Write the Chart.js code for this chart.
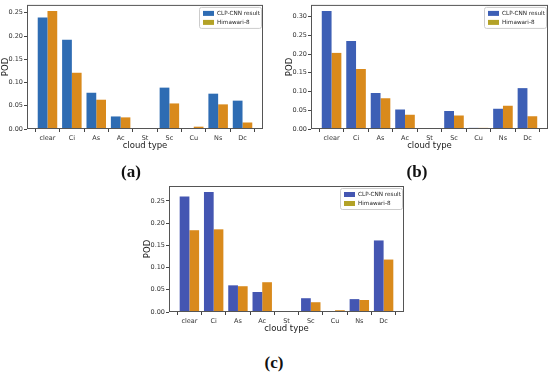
<!DOCTYPE html>
<html lang="en">
<head>
    <meta charset="UTF-8">
    <title>POD by cloud type</title>
    <script src="https://cdn.jsdelivr.net/npm/chart.js"></script>
    <style>
        body { margin: 0; background: #fff; }
        #wrap { position: relative; width: 550px; height: 373px; overflow: hidden; }
        canvas { position: absolute; }
        .cap { position: absolute; font: bold 17px "Liberation Serif", "DejaVu Serif", serif; color: #111; transform: translate(-50%, -50%); }
    </style>
</head>
<body>
<div id="wrap">
    <canvas id="chartA" width="275" height="155" style="left:0;top:0"></canvas>
    <canvas id="chartB" width="275" height="155" style="left:275px;top:0"></canvas>
    <canvas id="chartC" width="300" height="158" style="left:130px;top:180px"></canvas>
    <div class="cap" style="left:131px;top:172px">(a)</div>
    <div class="cap" style="left:417px;top:172px">(b)</div>
    <div class="cap" style="left:274px;top:363px">(c)</div>
</div>

<script>
    const categories = ['clear', 'Ci', 'As', 'Ac', 'St', 'Sc', 'Cu', 'Ns', 'Dc'];
    const seriesNames = ['CLP-CNN result', 'Himawari-8'];

    // (a)
    const clpA = [0.240, 0.192, 0.078, 0.027, 0, 0.089, 0.001, 0.076, 0.061];
    const himA = [0.254, 0.121, 0.063, 0.025, 0, 0.055, 0.005, 0.053, 0.014];
    // (b)
    const clpB = [0.315, 0.235, 0.096, 0.052, 0, 0.048, 0.003, 0.054, 0.109];
    const himB = [0.203, 0.160, 0.082, 0.038, 0, 0.036, 0.003, 0.062, 0.034];
    // (c)
    const clpC = [0.260, 0.270, 0.060, 0.045, 0, 0.031, 0.001, 0.029, 0.161];
    const himC = [0.184, 0.186, 0.058, 0.067, 0, 0.022, 0.004, 0.027, 0.118];

    const orange = '#d98a1c';
    const olive = '#b3a227';

    // box round the plot + legend in upper right
    const framePlugin = {
        id: 'frame',
        afterDraw(chart) {
            const a = chart.chartArea, ctx = chart.ctx;
            ctx.save();
            ctx.strokeStyle = '#555';
            ctx.lineWidth = 1;
            ctx.strokeRect(a.left + 0.5, a.top + 0.5, a.right - a.left - 1, a.bottom - a.top - 1);

            const w = 62, h = 21;
            const x = a.right - w - 2, y = a.top + 2;
            ctx.fillStyle = '#fff';
            ctx.strokeStyle = '#ccc';
            ctx.beginPath();
            ctx.roundRect(x + 0.5, y + 0.5, w, h, 2);
            ctx.fill();
            ctx.stroke();
            ctx.font = '5.7px "DejaVu Sans"';
            ctx.textBaseline = 'middle';
            chart.data.datasets.forEach((ds, i) => {
                const ry = y + 6.5 + i * 9;
                ctx.fillStyle = ds.legendColor;
                ctx.fillRect(x + 4, ry - 2.5, 11, 5);
                ctx.fillStyle = '#222';
                ctx.fillText(ds.label, x + 18, ry);
            });
            ctx.restore();
        }
    };

    function makeChart(id, clp, him, blue, yWidth, podPad, pad, yMax) {
        new Chart(document.getElementById(id), {
            type: 'bar',
            data: {
                datasets: [
                    { label: seriesNames[0], data: clp.map((v, i) => ({ x: i, y: v })), backgroundColor: blue, legendColor: blue },
                    { label: seriesNames[1], data: him.map((v, i) => ({ x: i, y: v })), backgroundColor: orange, legendColor: olive }
                ]
            },
            options: {
                responsive: false,
                animation: false,
                layout: { padding: pad },
                categoryPercentage: 0.8,
                barPercentage: 1.0,
                plugins: { legend: { display: false }, tooltip: { enabled: false } },
                scales: {
                    x: {
                        type: 'linear',
                        min: -0.84,
                        max: 8.84,
                        offset: false,
                        afterBuildTicks: s => { s.ticks = categories.map((c, i) => ({ value: i })); },
                        afterFit: s => { s.height = 26; },
                        grid: { drawOnChartArea: false, color: '#444', tickLength: 3 },
                        border: { display: false },
                        ticks: { callback: v => categories[v], font: { size: 6.5, family: 'DejaVu Sans' }, color: '#333', padding: 2, maxRotation: 0, autoSkip: false },
                        title: { display: true, text: 'cloud type', font: { size: 8.5, family: 'DejaVu Sans' }, color: '#222', padding: { top: 0, bottom: 3.9 } }
                    },
                    y: {
                        min: 0,
                        max: yMax,
                        afterFit: s => { s.width = yWidth; },
                        grid: { drawOnChartArea: false, color: '#444', tickLength: 3 },
                        border: { display: false },
                        ticks: { stepSize: 0.05, includeBounds: false, callback: v => v.toFixed(2), font: { size: 6.5, family: 'DejaVu Sans' }, color: '#333', padding: 1 },
                        title: { display: true, text: 'POD', font: { size: 8.5, family: 'DejaVu Sans' }, color: '#222', padding: { top: podPad, bottom: 0 } }
                    }
                }
            },
            plugins: [framePlugin]
        });
    }

    makeChart('chartA', clpA, himA, '#2e6cb3', 27, 1, { top: 1, right: 12, left: 0, bottom: 0 }, 0.267);
    makeChart('chartB', clpB, himB, '#3d5fb5', 36, 10, { top: 2, right: 2, left: 0, bottom: 0 }, 0.331);
    makeChart('chartC', clpC, himC, '#4456b2', 39, 13, { top: 6, right: 26, left: 0, bottom: 0 }, 0.2835);
</script>
</body>
</html>
